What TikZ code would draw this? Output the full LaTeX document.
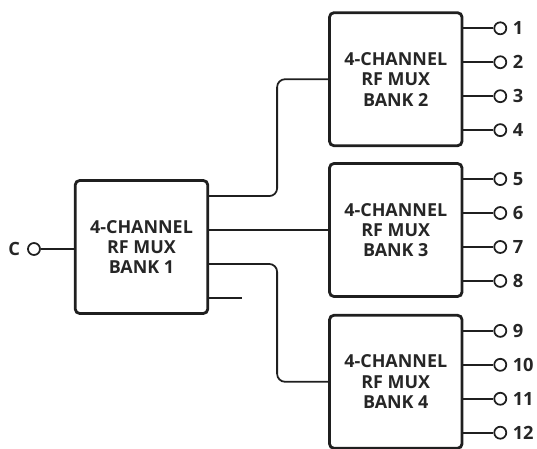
\documentclass[tikz,border=0pt]{standalone}
\usepackage{fontspec}
\setmainfont{Open Sans}
\usepackage{tikz}
\usetikzlibrary{positioning,calc}
\tikzset{
  muxbox/.style={rectangle, draw=black!88, line width=1.6pt, rounded corners=2.5pt,
    minimum width=2.65cm, minimum height=2.66cm, align=center, text=black!85,
    font=\bfseries\fontsize{10.2}{11.6}\selectfont, inner sep=0pt},
  portcircle/.style={circle, draw=black!88, line width=1pt, fill=white,
    minimum size=0.24cm, inner sep=0pt},
  portlabel/.style={font=\bfseries\fontsize{10.4}{12}\selectfont, text=black!85, inner sep=1pt},
  wire/.style={draw=black!88, line width=1pt, rounded corners=4.5pt},
}

\begin{document}
\begin{tikzpicture}[x=0.02cm, y=-0.02cm]
  \useasboundingbox (0,0) rectangle (537,449);

  % Input bank and the three banks on the right
  \node[muxbox] (bank1) at (141.5,247) {4-CHANNEL\\RF MUX\\BANK 1};
  \node[muxbox, right=2.38cm of bank1, yshift=0.34cm] (bank3) {4-CHANNEL\\RF MUX\\BANK 3};
  \node[muxbox, above=0.30cm of bank3] (bank2) {4-CHANNEL\\RF MUX\\BANK 2};
  \node[muxbox, below=0.32cm of bank3] (bank4) {4-CHANNEL\\RF MUX\\BANK 4};

  % Common input
  \node[portcircle, left=0.66cm of bank1, yshift=-0.04cm] (cin) {};
  \node[portlabel, left=0.1cm of cin] (clab) {C};
  \draw[wire] (cin.east) -- (cin.east -| bank1.west);

  % Taps on the right side of bank 1
  \foreach \f [count=\i] in {0.125,0.375,0.625,0.875}
    \coordinate (b1o\i) at ($(bank1.north east)!\f!(bank1.south east)$);
  \coordinate (spare) at ($(b1o4)+(33,0)$);

  % Bank 1 to the other banks
  \draw[wire] (b1o1) -| ($(bank2.west)+(-51,0)$) -- (bank2.west);
  \draw[wire] (b1o2) -- (b1o2 -| bank3.west);
  \draw[wire] (b1o3) -| ($(bank4.west)+(-51,0)$) -- (bank4.west);
  \draw[wire] (b1o4) -- (spare);

  % Outputs 1 to 12
  \foreach \b/\first in {2/1, 3/5, 4/9} {
    \foreach \f [count=\i from 0] in {0.125,0.375,0.625,0.875} {
      \pgfmathtruncatemacro{\n}{\first+\i}
      \coordinate (tap\n) at ($(bank\b.north east)!\f!(bank\b.south east)$);
      \node[portcircle, right=0.6cm of tap\n] (out\n) {};
      \node[portlabel, right=0.07cm of out\n] (lab\n) {\n};
      \draw[wire] (tap\n) -- (out\n.west);
    }
  }

\end{tikzpicture}
\end{document}
